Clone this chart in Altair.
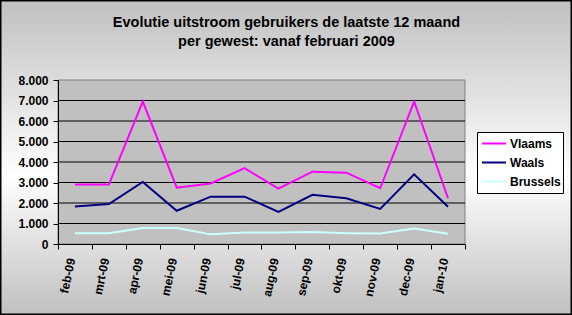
import altair as alt
import pandas as pd

months = ["feb-09", "mrt-09", "apr-09", "mei-09", "jun-09", "jul-09",
          "aug-09", "sep-09", "okt-09", "nov-09", "dec-09", "jan-10"]
vlaams = [2900, 2900, 6950, 2750, 2950, 3700, 2700, 3530, 3480, 2720, 6950, 2230]
waals = [1830, 1950, 3030, 1620, 2310, 2310, 1570, 2400, 2230, 1710, 3400, 1820]
brussels = [520, 520, 780, 780, 470, 560, 560, 580, 530, 510, 760, 500]
series = ["Vlaams", "Waals", "Brussels"]
colors = ["#ff00ff", "#000080", "#ccffff"]
grid_values = [1000, 2000, 3000, 4000, 5000, 6000, 7000]
y_ticks = [0, 1000, 2000, 3000, 4000, 5000, 6000, 7000, 8000]

rows = []
for name, vals in zip(series, [vlaams, waals, brussels]):
    for m, v in zip(months, vals):
        rows.append({"maand": m, "gewest": name, "waarde": v})
df = pd.DataFrame(rows)
grid_df = pd.DataFrame({"v": grid_values})
one = pd.DataFrame({"a": [0]})

W, H = 407, 164
PL, PT, PR, PB = 58, 80, 107, 71
FONT = "Liberation Sans"

yscale = alt.Scale(domain=[0, 8000], nice=False, zero=True)
yaxis = alt.Axis(title=None, values=y_ticks, tickSize=5, labelPadding=5,
                 labelExpr="replace(format(datum.value, ','), ',', '.')",
                 domainColor="#000000", tickColor="#000000",
                 labelFont=FONT, labelFontSize=12, labelFontWeight="bold",
                 labelColor="#000000", grid=False, zindex=1)

bg = alt.Chart(one).mark_rect(
    fill=alt.LinearGradient(
        gradient="linear",
        stops=[alt.GradientStop(color="#c0c0c0", offset=0),
               alt.GradientStop(color="#ffffff", offset=0.56),
               alt.GradientStop(color="#c0c0c0", offset=1)],
        x1=0, x2=0, y1=0, y2=1),
    stroke="#000000", strokeWidth=1.5
).encode(
    x=alt.value(-PL + 0.75), x2=alt.value(W + PR - 0.75),
    y=alt.value(-PT + 0.75), y2=alt.value(H + PB - 0.75)
)

plot_bg = alt.Chart(one).mark_rect(
    fill="#c0c0c0", stroke="#808080", strokeWidth=1
).encode(
    x=alt.value(0), x2=alt.value(W), y=alt.value(0), y2=alt.value(H)
)

grid = alt.Chart(grid_df).mark_rule(color="#000000", strokeWidth=1).encode(
    y=alt.Y("v:Q", scale=yscale, axis=yaxis)
)

lines = alt.Chart(df).mark_line(strokeWidth=2).encode(
    x=alt.X("maand:N", sort=months, bandPosition=0.5,
            scale=alt.Scale(type="band", paddingInner=0, paddingOuter=0),
            axis=alt.Axis(title=None, tickBand="extent", labelAngle=282,
                          labelAlign="right", labelBaseline="middle",
                          labelPadding=9, labelOffset=-4, tickSize=5,
                          domainColor="#000000", tickColor="#000000",
                          labelFont=FONT, labelFontSize=12, labelFontWeight="bold",
                          labelColor="#000000", grid=False, zindex=1)),
    y=alt.Y("waarde:Q", scale=yscale, axis=yaxis),
    color=alt.Color("gewest:N", sort=series,
                    scale=alt.Scale(domain=series, range=colors),
                    legend=alt.Legend(title=None, orient="none", legendX=419, legendY=52,
                                      fillColor="#ffffff", strokeColor="#000000",
                                      padding=2, symbolType="stroke", symbolSize=576,
                                      symbolStrokeWidth=2, symbolOffset=2,
                                      clipHeight=19, rowPadding=0, labelOffset=3,
                                      labelFont=FONT, labelFontSize=12,
                                      labelFontWeight="bold", labelColor="#000000")),
)

chart = alt.layer(bg, plot_bg, grid, lines).properties(
    width=W, height=H,
    padding={"left": PL, "top": PT, "right": PR, "bottom": PB},
    autosize=alt.AutoSizeParams(type="none"),
    title=alt.TitleParams(
        text=["Evolutie uitstroom gebruikers de laatste 12 maand",
              "per gewest: vanaf februari 2009"],
        font=FONT, fontSize=14.5, fontWeight="bold", color="#000000",
        anchor="middle", frame="group", dx=25, offset=-49, lineHeight=19)
).configure_view(stroke=None)

chart.save("out.html", embed_options={"renderer": "svg", "actions": False})
